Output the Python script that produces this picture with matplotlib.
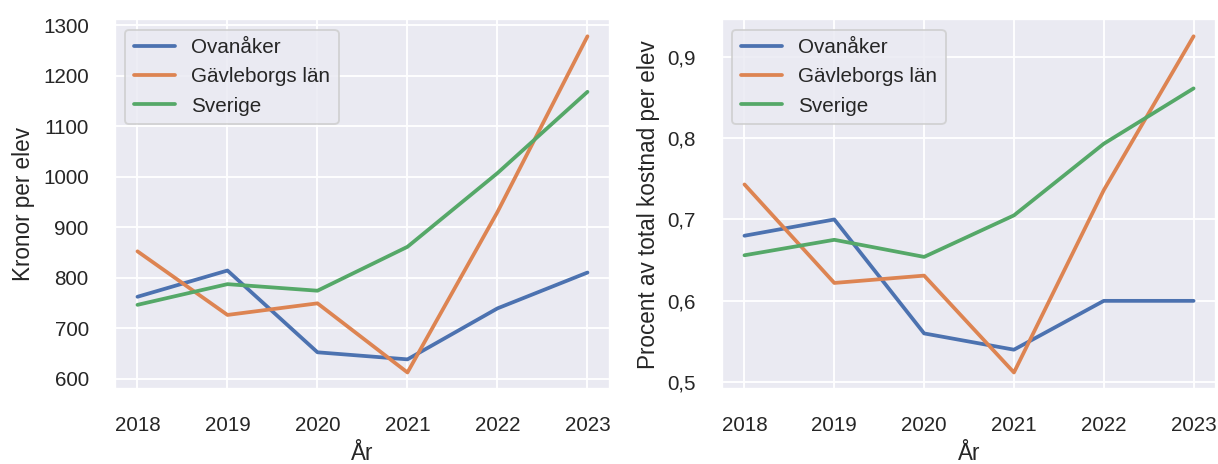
"""
Kronor per elev och andel av total kostnad, Ovanåker jämfört med länet och riket
"""

import matplotlib.pyplot as plt
import seaborn as sns
from matplotlib.ticker import FuncFormatter

years = [2018, 2019, 2020, 2021, 2022, 2023]
series_names = ["Ovanåker", "Gävleborgs län", "Sverige"]

# Kronor per elev
ovanaker_kr = [762, 814, 652, 638, 739, 810]
gavleborg_kr = [852, 726, 749, 612, 930, 1278]
sverige_kr = [746, 787, 774, 861, 1007, 1168]

# Procent av total kostnad per elev
ovanaker_pct = [0.68, 0.70, 0.56, 0.54, 0.60, 0.60]
gavleborg_pct = [0.743, 0.622, 0.631, 0.512, 0.736, 0.925]
sverige_pct = [0.656, 0.675, 0.654, 0.705, 0.793, 0.861]

sns.set_theme(style="darkgrid")
plt.rcParams["font.family"] = ["Liberation Sans", "DejaVu Sans"]

DPI = 135
fig = plt.figure(figsize=(1218 / DPI, 464 / DPI), dpi=DPI)
ax1 = fig.add_axes([0.0944, 0.161, 0.4064, 0.797])
ax2 = fig.add_axes([0.5928, 0.161, 0.4056, 0.797])

# Left: kronor per elev
for name, vals in zip(series_names, [ovanaker_kr, gavleborg_kr, sverige_kr]):
    ax1.plot(years, vals, label=name, linewidth=2)
ax1.set_xlabel("År")
ax1.set_ylabel("Kronor per elev")
ax1.set_xticks(years)
ax1.legend(loc="upper left")

# Right: procent av total kostnad
for name, vals in zip(series_names, [ovanaker_pct, gavleborg_pct, sverige_pct]):
    ax2.plot(years, vals, label=name, linewidth=2)
ax2.set_xlabel("År")
ax2.set_ylabel("Procent av total kostnad per elev")
ax2.set_xticks(years)
ax2.set_yticks([0.5, 0.6, 0.7, 0.8, 0.9])
ax2.yaxis.set_major_formatter(FuncFormatter(lambda v, p: f"{v:.1f}".replace(".", ",")))
ax2.legend(loc="upper left")

for ax in (ax1, ax2):
    ax.tick_params(axis="both", pad=8)

fig.savefig("out.png", dpi=DPI)
